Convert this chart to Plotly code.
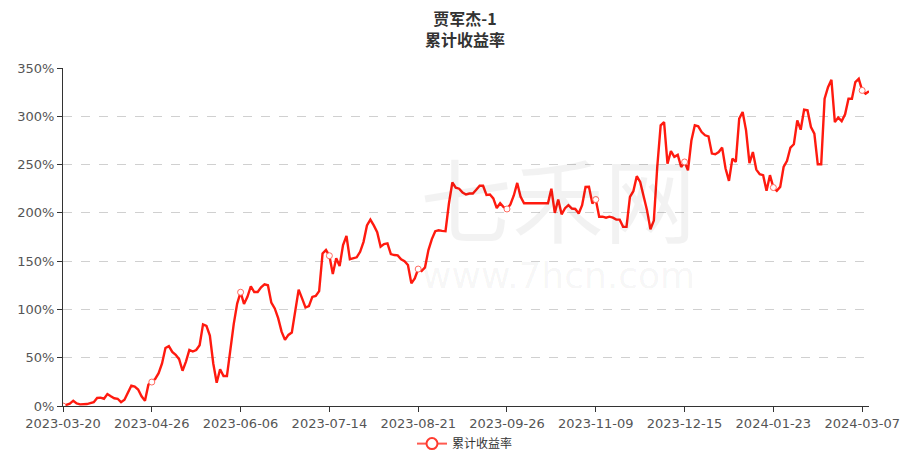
import plotly.graph_objects as go

# ---- data ----
tick_labels = ["2023-03-20", "2023-04-26", "2023-06-06", "2023-07-14", "2023-08-21",
               "2023-09-26", "2023-11-09", "2023-12-15", "2024-01-23", "2024-03-07"]
tick_positions = [0, 26, 52, 78, 104, 130, 156, 182, 208, 234]

cum_return_pct = [
    0, 1.5, 2.5, 5.5, 2.7, 1.7, 1.7, 2, 3, 4,
    8.3, 8.7, 7.5, 12.4, 10, 8, 7.5, 4, 6.5, 13.4,
    21, 20, 17, 10, 5.5, 22, 24.8, 28, 34, 44,
    60, 62, 56, 53, 48.5, 36.5, 46, 58, 56.4, 58,
    63, 84.5, 83, 73, 44, 24, 38, 31, 31, 58,
    85, 106, 117.8, 105.7, 113, 124, 118, 118, 123, 126,
    125, 107, 101, 91, 77, 68.5, 73.6, 76, 99.5, 120.5,
    111.5, 102, 103.5, 113, 114, 119, 158, 161.5, 155.6, 136.7,
    153, 145, 166.6, 176, 152, 153, 154, 159.7, 170, 187,
    193, 187, 180, 165, 167.7, 168.4, 157.3, 156.3, 156, 152,
    150, 146, 127, 132, 141.8, 139.8, 143.6, 161.5, 172.8, 181,
    182, 181.4, 181, 209.7, 231.4, 226, 225, 221, 219, 220,
    220, 224, 228, 228, 218.6, 219, 214.9, 205, 210, 206,
    204, 208.7, 218, 231, 216.5, 210, 210, 210, 210, 210,
    210, 210, 210, 225, 200, 213.8, 198.5, 204.8, 208, 204.5,
    204, 199.4, 208, 226.8, 227, 209.7, 213.8, 195.9, 196, 195,
    196, 195, 193, 193, 185.5, 185.5, 216.6, 222.4, 238, 232,
    218, 202.8, 183, 192, 247.5, 290.6, 294, 251, 264, 258,
    260, 247.5, 252.7, 244, 275, 290.6, 289.6, 283.7, 280.3, 279.2,
    261.4, 260.7, 263, 267.6, 245.9, 233.1, 256.2, 252.7, 297.5, 304.4,
    285.4, 251.6, 263, 244.8, 240, 239, 222.8, 239, 226.2, 222.8,
    226.9, 247.5, 253.8, 267.6, 271, 295.8, 286.1, 306.8, 306.1, 288.9,
    282, 250.3, 250.3, 318.2, 330.2, 337.8, 294, 298.6, 295, 302,
    318.2, 318.2, 335.4, 338.8, 326.8, 323.4, 326,
]
series_name = "累计收益率"
title_lines = ["贾军杰-1", "累计收益率"]

x_idx = list(range(len(cum_return_pct)))
RED = "#ff1a0f"
CJK = "Noto Sans CJK SC"

# the page body has an 8px margin: lay out in page pixels, offset by it
OFF = 8
W, H = 911 - OFF, 460 - OFF
ML, MR, MT, MB = 63.3 - OFF, 911 - 868.7, 67.5 - OFF, 460 - 406.3
PW, PH = W - ML - MR, H - MT - MB


def px_x(px):
    return (px - OFF - ML) / PW


def px_y(py):
    return (H - MB - (py - OFF)) / PH


fig = go.Figure()

# main line
fig.add_trace(go.Scatter(
    x=x_idx, y=cum_return_pct, mode="lines",
    line=dict(color=RED, width=2.4),
    showlegend=False, hoverinfo="skip",
))
# symbols at labelled categories
fig.add_trace(go.Scatter(
    x=tick_positions, y=[cum_return_pct[i] for i in tick_positions], mode="markers",
    marker=dict(symbol="circle", size=6, color="white", line=dict(color="#ff6a60", width=1)),
    showlegend=False, hoverinfo="skip",
))
# legend entry
fig.add_trace(go.Scatter(
    x=[None], y=[None], mode="lines+markers", name=series_name,
    line=dict(color="#ff5a50", width=2),
    marker=dict(symbol="circle", size=11, color="white", line=dict(color="#ff3b30", width=2)),
))

# watermark
fig.add_annotation(text="七禾网", x=px_x(558), y=px_y(195), xref="paper", yref="paper",
                   showarrow=False, font=dict(family=CJK, size=92, color="rgba(0,0,0,0.05)"))
fig.add_annotation(text="www.7hcn.com", x=px_x(558), y=px_y(298), xref="paper", yref="paper",
                   showarrow=False, font=dict(family="DejaVu Sans", size=36, color="rgba(0,0,0,0.05)"))

# title (two bold lines, one text block)
fig.add_annotation(text="<b>" + title_lines[0] + "</b><br><b>" + title_lines[1] + "</b>",
                   x=px_x(465), y=px_y(28), xref="paper", yref="paper",
                   xanchor="center", yanchor="middle", align="center",
                   showarrow=False, font=dict(family=CJK, size=16, color="#333333"))

fig.update_layout(
    width=W, height=H,
    margin=dict(l=ML, r=MR, t=MT, b=MB, autoexpand=False),
    paper_bgcolor="white", plot_bgcolor="white",
    legend=dict(orientation="h", x=px_x(465), xanchor="center",
                y=px_y(444), yanchor="middle",
                font=dict(family=CJK, size=12, color="#333333"),
                itemwidth=30),
    xaxis=dict(
        range=[0, len(cum_return_pct) - 1], automargin=False,
        tickmode="array", tickvals=tick_positions, ticktext=tick_labels,
        showgrid=False, zeroline=False,
        showline=True, linecolor="#333333", linewidth=1,
        ticks="outside", ticklen=5, tickcolor="#333333",
        tickfont=dict(family="DejaVu Sans", size=13, color="#555555"),
    ),
    yaxis=dict(
        range=[0, 350], dtick=50, ticksuffix="%", automargin=False,
        showgrid=True, gridcolor="#d0d0d0", griddash="dash", gridwidth=1,
        zeroline=False,
        showline=True, linecolor="#333333", linewidth=1,
        ticks="outside", ticklen=5, tickcolor="#333333",
        tickfont=dict(family="DejaVu Sans", size=13, color="#555555"),
    ),
)

fig.write_html("out.html")
